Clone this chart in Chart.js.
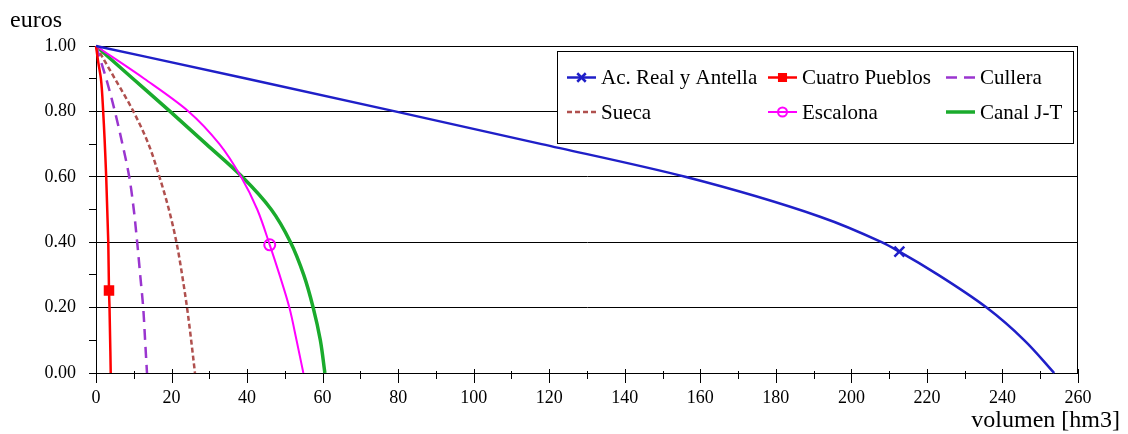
<!DOCTYPE html>
<html>
<head>
<meta charset="utf-8">
<script src="https://cdn.jsdelivr.net/npm/chart.js@4.4.1/dist/chart.umd.min.js"></script>
<style>
  html, body { margin: 0; padding: 0; background: #fff; }
  #wrap { position: relative; width: 1128px; height: 434px; }
</style>
</head>
<body>
<div id="wrap"><canvas id="c"></canvas></div>
<script>
/* curve readings: volumen [hm3] (x) vs euros (y) */
var LABELS = ['Ac. Real y Antella', 'Cuatro Pueblos', 'Cullera', 'Sueca', 'Escalona', 'Canal J-T'];

var realX = [0, 40, 79.2, 118, 156, 191.7, 208, 212.7, 223, 235.8, 245.8, 253.7];
var realY = [1, 0.9, 0.8, 0.7, 0.6, 0.478, 0.4, 0.371, 0.3, 0.2, 0.1, 0];

var cuatroX = [0, 0.6, 1.3, 1.9, 2.7, 3.25, 3.44, 3.58, 3.9];
var cuatroY = [1, 0.95, 0.9, 0.8, 0.6, 0.4, 0.252, 0.2, 0];

var culleraX = [0, 2.7, 5.0, 7.0, 8.8, 10.0, 10.9, 11.7, 12.5, 13.0, 13.5];
var culleraY = [1, 0.9, 0.8, 0.7, 0.6, 0.5, 0.4, 0.3, 0.2, 0.1, 0];

var suecaX = [0, 5.0, 9.9, 13.9, 16.8, 19.3, 21.3, 22.8, 24.1, 25.2, 26.2];
var suecaY = [1, 0.9, 0.8, 0.7, 0.6, 0.5, 0.4, 0.3, 0.2, 0.1, 0];

var escalonaX = [0, 12.8, 24.5, 32.7, 38.4, 42.7, 46.0, 48.6, 51.2, 53.1, 54.9];
var escalonaY = [1, 0.9, 0.8, 0.7, 0.6, 0.5, 0.392, 0.3, 0.2, 0.1, 0];

var canalX = [0, 9.8, 19.6, 29.2, 38.7, 46.4, 51.5, 55.0, 57.5, 59.4, 60.6];
var canalY = [1, 0.9, 0.8, 0.7, 0.6, 0.5, 0.4, 0.3, 0.2, 0.1, 0];

/* single marker per series (value pairs above) */
var realMark = 212.7, cuatroMark = 3.44, escalonaMark = 46.0;

var FONT = "'Liberation Serif', 'Times New Roman', serif";
Chart.defaults.font.family = FONT;
Chart.defaults.color = '#000';

function pts(xs, ys) {
  return xs.map(function (x, i) { return { x: x, y: ys[i] }; });
}
function radii(xs, mark, r) {
  return xs.map(function (x) { return x === mark ? r : 0; });
}

function series(label, xs, ys, o) {
  return {
    label: label,
    data: pts(xs, ys),
    borderColor: o.color,
    backgroundColor: o.color,
    borderWidth: o.width,
    borderDash: o.dash || [],
    cubicInterpolationMode: 'monotone',
    fill: false,
    pointRadius: o.mark != null ? radii(xs, o.mark, o.r) : 0,
    pointStyle: o.style || 'circle',
    pointBorderColor: o.color,
    pointBackgroundColor: o.fill || o.color,
    pointBorderWidth: o.pbw || 2,
    legendR: o.lr || 0,
    clip: 4
  };
}

var datasets = [
  series(LABELS[0], realX, realY, { color: '#1f1fc8', width: 2.5, mark: realMark, r: 7, style: 'crossRot', pbw: 2.5, lr: 6 }),
  series(LABELS[1], cuatroX, cuatroY, { color: '#ff0000', width: 2.5, mark: cuatroMark, r: 6, style: 'rect', lr: 5 }),
  series(LABELS[2], culleraX, culleraY, { color: '#9a35cf', width: 2.5, dash: [11, 7] }),
  series(LABELS[3], suecaX, suecaY, { color: '#b0504e', width: 2.5, dash: [5, 3] }),
  series(LABELS[4], escalonaX, escalonaY, { color: '#ff00ff', width: 2, mark: escalonaMark, r: 5.5, style: 'circle', fill: 'rgba(0,0,0,0)', lr: 4.5 }),
  series(LABELS[5], canalX, canalY, { color: '#1aab2c', width: 3.5 })
];

function isMajorY(v) { return Math.round(v * 10) % 2 === 0; }

/* box top/right, x tick marks, axis titles */
var frame = {
  id: 'frame',
  beforeDatasetsDraw: function (c) {
    var a = c.chartArea, g = c.ctx, xs = c.scales.x;
    g.save();
    g.strokeStyle = '#000';
    g.lineWidth = 1;
    g.beginPath();
    g.moveTo(a.left, a.top + 0.5); g.lineTo(a.right, a.top + 0.5);
    g.moveTo(a.right - 0.5, a.top); g.lineTo(a.right - 0.5, a.bottom);
    for (var v = 0; v <= 260; v += 10) {
      var px = Math.round(xs.getPixelForValue(v)) + 0.5;
      var major = v % 20 === 0;
      g.moveTo(px, a.bottom - (major ? 4 : 2));
      g.lineTo(px, a.bottom + (major ? 10 : 6));
    }
    g.stroke();
    g.fillStyle = '#000';
    g.font = '24px ' + FONT;
    g.textBaseline = 'alphabetic';
    g.textAlign = 'left';
    g.fillText('euros', 10, 27);
    g.textAlign = 'right';
    g.fillText('volumen [hm3]', 1120, 427);
    g.restore();
  }
};

/* legend box inside the plot, top-right */
var boxLegend = {
  id: 'boxLegend',
  afterDatasetsDraw: function (c) {
    var a = c.chartArea, g = c.ctx;
    var L = a.right - 521, T = a.top + 5, W = 516, H = 92;
    var colX = [L + 10, L + 211, L + 389], rowY = [T + 26.5, T + 61];
    g.save();
    g.fillStyle = '#fff';
    g.fillRect(L, T, W, H);
    g.strokeStyle = '#000';
    g.lineWidth = 1;
    g.strokeRect(L + 0.5, T + 0.5, W, H);
    c.data.datasets.forEach(function (d, i) {
      var x = colX[i % 3], y = rowY[Math.floor(i / 3)];
      g.strokeStyle = d.borderColor;
      g.lineWidth = d.borderWidth;
      g.setLineDash(d.borderDash);
      g.beginPath();
      g.moveTo(x, y); g.lineTo(x + 29, y);
      g.stroke();
      g.setLineDash([]);
      if (d.legendR) {
        g.fillStyle = d.pointBackgroundColor;
        g.lineWidth = d.pointBorderWidth;
        Chart.helpers.drawPoint(g, { pointStyle: d.pointStyle, radius: d.legendR, borderWidth: d.pointBorderWidth, rotation: 0 }, x + 14.5, y);
      }
      g.fillStyle = '#000';
      g.font = '21px ' + FONT;
      g.textAlign = 'left';
      g.textBaseline = 'middle';
      g.fillText(d.label, x + 34, y + 1);
    });
    g.restore();
  }
};

new Chart(document.getElementById('c'), {
  type: 'line',
  data: { datasets: datasets },
  plugins: [frame, boxLegend],
  options: {
    indexAxis: 'y', // curves are read at even euro steps, so spline along y
    responsive: true,
    maintainAspectRatio: false,
    devicePixelRatio: 1,
    animation: false,
    events: [],
    layout: { padding: { top: 46, right: 50, left: 0, bottom: 0 } },
    plugins: { legend: { display: false }, tooltip: { enabled: false } },
    scales: {
      x: {
        type: 'linear', position: 'bottom', min: 0, max: 260,
        afterFit: function (s) { s.height = 61; },
        grid: { display: false, drawTicks: false },
        border: { display: true, color: '#000', width: 1 },
        ticks: {
          stepSize: 10, autoSkip: false, maxRotation: 0, padding: 14,
          font: { size: 18 }, color: '#000',
          callback: function (v) { return v % 20 === 0 ? String(v) : ''; }
        }
      },
      y: {
        type: 'linear', position: 'left', min: 0, max: 1,
        afterFit: function (s) { s.width = 96; },
        grid: {
          color: function (ctx) { return ctx.tick && isMajorY(ctx.tick.value) ? '#000' : 'rgba(0,0,0,0)'; },
          tickColor: '#000', tickLength: 7, lineWidth: 1
        },
        border: { display: true, color: '#000', width: 1 },
        ticks: {
          stepSize: 0.1, autoSkip: false, padding: 13,
          font: { size: 18 }, color: '#000',
          callback: function (v) { return isMajorY(v) ? v.toFixed(2) : ''; }
        }
      }
    }
  }
});
</script>
</body>
</html>
